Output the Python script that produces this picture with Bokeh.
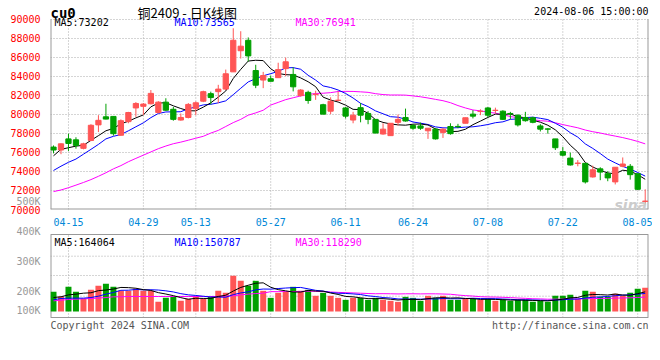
import numpy as np
import pandas as pd
from bokeh.plotting import figure
from bokeh.layouts import column
from bokeh.models import Range1d, FixedTicker, Label, ColumnDataSource
from bokeh.embed import file_html
from bokeh.resources import INLINE

# ---------------- data ----------------
dates = ["04-11", "04-12", "04-15", "04-16", "04-17", "04-18", "04-19", "04-22", "04-23", "04-24",
         "04-25", "04-26", "04-29", "04-30", "05-06", "05-07", "05-08", "05-09", "05-10", "05-13",
         "05-14", "05-15", "05-16", "05-17", "05-20", "05-21", "05-22", "05-23", "05-24", "05-27",
         "05-28", "05-29", "05-30", "05-31", "06-03", "06-04", "06-05", "06-06", "06-07", "06-11",
         "06-12", "06-13", "06-14", "06-17", "06-18", "06-19", "06-20", "06-21", "06-24", "06-25",
         "06-26", "06-27", "06-28", "07-01", "07-02", "07-03", "07-04", "07-05", "07-08", "07-09",
         "07-10", "07-11", "07-12", "07-15", "07-16", "07-17", "07-18", "07-19", "07-22", "07-23",
         "07-24", "07-25", "07-26", "07-29", "07-30", "07-31", "08-01", "08-02", "08-05", "08-06"]

opens = [76560, 76250, 77420, 77320, 76425, 77250, 78890, 79740, 79780, 77800,
         79230, 80670, 80840, 81110, 80190, 81280, 80530, 79400, 79670, 80600,
         81380, 82170, 82380, 82650, 84460, 86680, 87780, 84600, 83600, 83740,
         83850, 84800, 84190, 81970, 82310, 82070, 81010, 80330, 81450, 80670,
         79400, 80700, 80090, 79470, 77930, 77760, 79160, 79670, 78820, 78780,
         78270, 78440, 78100, 78720, 78730, 79060, 80020, 80290, 80670, 80400,
         80330, 80090, 79910, 79670, 79640, 78780, 78470, 77420, 76080, 75400,
         74840, 74850, 73420, 74270, 73760, 72900, 74540, 74540, 73760, 70850]
highs = [76730, 76950, 77965, 77590, 77010, 78960, 79910, 81110, 79780, 79470,
         80260, 81280, 81180, 82550, 81380, 81690, 80770, 80090, 81180, 81350,
         82480, 82380, 83100, 84700, 89040, 88730, 88080, 85210, 84460, 84080,
         85420, 85960, 84940, 82650, 82480, 82480, 81110, 81790, 82410, 80770,
         80260, 81180, 80330, 79470, 79060, 79060, 79980, 80600, 78960, 79130,
         78540, 78540, 78540, 79060, 79000, 79640, 80430, 80530, 80770, 80700,
         80430, 80260, 79980, 80260, 79740, 78960, 78540, 77420, 76560, 75980,
         75190, 74850, 74610, 74440, 74030, 74440, 75470, 74780, 73760, 72120]
lows = [75900, 75810, 76150, 76390, 76320, 77180, 78135, 79470, 77760, 77760,
        79060, 79740, 79910, 81040, 80090, 80360, 79330, 79330, 79570, 79910,
        81280, 81040, 81180, 82550, 84460, 85860, 85550, 82750, 82750, 83470,
        83850, 84020, 82410, 81860, 81110, 81520, 80020, 80020, 81380, 79570,
        79060, 79160, 78960, 78030, 77860, 77760, 78820, 79230, 78370, 78370,
        77420, 77350, 77520, 77860, 78540, 79060, 79570, 79910, 79670, 80090,
        79400, 79470, 78720, 79230, 79060, 78200, 77970, 76250, 75570, 74610,
        74540, 72730, 73350, 73080, 72970, 72630, 74440, 73140, 72050, 70510]
closes = [76250, 76900, 76940, 76735, 76900, 78850, 79370, 79500, 77965, 79330,
          80190, 81140, 81075, 82200, 81280, 80430, 79470, 79670, 81040, 81210,
          82380, 81760, 82650, 84260, 87780, 87160, 86140, 83060, 84080, 83470,
          84700, 85520, 82890, 82550, 81450, 82110, 80020, 81380, 81490, 79810,
          79910, 79910, 79470, 78030, 78440, 79060, 79470, 79300, 78540, 78540,
          78540, 77420, 78440, 77970, 78690, 79640, 79810, 80330, 79910, 80430,
          79470, 80050, 78890, 79330, 79160, 78440, 78440, 76490, 75710, 74680,
          74880, 72900, 74170, 73930, 73320, 74440, 74780, 73660, 72120, 70880]
volumes = [163000, 124500, 204700, 163000, 105000, 180000, 213000, 229700, 204700, 171500,
           171500, 188000, 171500, 171500, 80000, 113400, 121700, 88500, 105000, 121700,
           105000, 121700, 171500, 155000, 296000, 254500, 213000, 254500, 171500, 113400,
           155000, 163000, 204700, 171500, 180000, 130000, 155000, 130000, 113400, 96800,
           113400, 113400, 96800, 113400, 96800, 88500, 80000, 121700, 113400, 88500,
           130000, 113400, 130000, 96800, 96800, 105000, 105000, 96800, 105000, 88500,
           96800, 88500, 96800, 96800, 80000, 88500, 80000, 130000, 130000, 138000,
           105000, 171500, 163000, 121700, 121700, 146600, 130000, 155000, 188000, 196400]

# moving-average values at the left edge (window reaches before the first bar)
ma5_head = [75640, 76320, 76490, 76660]
ma10_head = [74100, 74550, 74960, 75300, 75810, 76320, 76840, 77420, 77690]
ma30_head = [71880, 72050, 72290, 72560, 72840, 73140, 73490, 73860, 74270, 74610,
             75020, 75370, 75710, 76050, 76390, 76670, 76910, 77080, 77280, 77490,
             77690, 78030, 78310, 78720, 79130, 79470, 79910, 80150, 80430]
vma5_head = [116000, 122000, 138000, 144000]
vma10_head = [97000, 108000, 111000, 111000, 111000, 116000, 127000, 144000, 158000]
vma30_head = [88500, 94000, 99600, 102400, 105000, 108000, 111000, 116000, 122000, 122000,
              124500, 124500, 124500, 124500, 124500, 124500, 124500, 124500, 124500, 124500,
              124500, 124500, 124500, 127000, 130000, 138000, 144000, 149000, 152000]

tick_dates = ["04-15", "04-29", "05-13", "05-27", "06-11", "06-24", "07-08", "07-22", "08-05"]
price_ticks = [70000, 72000, 74000, 76000, 78000, 80000, 82000, 84000, 86000, 88000, 90000]
price_top = 91959                                               # header space above 90000
vol_tick_labels = ["100K", "200K", "300K", "400K", "500K"]
vol_tick_levels = [5800, 168500, 416700, 668000, 913000]      # where the site prints them
vol_grid_levels = [127000, 298800, 459000]
vol_box = [-49800, 639100]                                      # volume pane bottom / top

header_symbol = "cu0"
header_title = "铜2409 - 日K线图"
header_time = "2024-08-06 15:00:00"
price_ma_texts = ["MA5:73202", "MA10:73565", "MA30:76941"]
vol_ma_texts = ["MA5:164064", "MA10:150787", "MA30:118290"]
footer_left = "Copyright 2024 SINA.COM"
footer_right = "http://finance.sina.com.cn"

# ---------------- derived ----------------
def moving(vals, n, head):
    s = pd.Series(vals, dtype=float).rolling(n).mean().to_numpy()
    s[:len(head)] = head
    return s

idx = np.arange(len(dates))
o = np.array(opens, float); c = np.array(closes, float)
RED = "#ff5555"; GREEN = "#00a000"
colors = np.where(c >= o, RED, GREEN)
src = ColumnDataSource(dict(x=idx, h=highs, l=lows, top=np.maximum(o, c), bottom=np.minimum(o, c),
                            vol=volumes, color=colors))

tick_pos = [dates.index(d) for d in tick_dates]
MONO = "DejaVu Sans Mono"
GRID = "#aaaaaa"
EDGE = "#999999"
W = 652
X0, X1 = -0.4, 79.44
P0, P1 = price_ticks[0], price_ticks[-1]

def axstyle(fig):
    for ax in fig.axis:
        ax.axis_line_color = None
        ax.major_tick_line_color = None
        ax.minor_tick_line_color = None
        ax.major_label_text_font = MONO
        ax.major_label_text_font_size = "10px"

def lab(fig, text, x, y, color="black", align="left", base="top", size="10px", font=MONO, style_=None):
    kw = {}
    if style_:
        kw["text_font_style"] = style_
    fig.add_layout(Label(x=x, y=y, x_units="screen", y_units="screen", text=text,
                         text_color=color, text_align=align, text_baseline=base,
                         text_font=font, text_font_size=size, **kw))

# ---------------- price panel (frame reaches the top of the page for the header) ----------------
xr = Range1d(X0, X1)
p = figure(width=W, height=228, x_range=xr, y_range=Range1d(P0, price_top), title=None,
           output_backend="svg", toolbar_location=None,
           min_border_left=50, min_border_right=4, min_border_top=0, min_border_bottom=15)
p.outline_line_color = None
p.xaxis.ticker = FixedTicker(ticks=tick_pos)
p.xaxis.major_label_overrides = {t: d for t, d in zip(tick_pos, tick_dates)}
p.xaxis.major_label_text_color = "#0088d8"
p.xaxis.major_label_standoff = 2
p.yaxis.ticker = FixedTicker(ticks=price_ticks)
p.yaxis.major_label_text_color = "#ff0000"
p.yaxis.major_label_standoff = 4
axstyle(p)
p.xgrid.visible = False
p.ygrid.ticker = FixedTicker(ticks=price_ticks)
p.ygrid.grid_line_color = GRID
p.ygrid.grid_line_dash = "1 2"

# pane grid and border
p.segment(x0=tick_pos, y0=P0, x1=tick_pos, y1=P1, color=GRID, line_dash="1 2", line_width=1)
p.segment(x0=[X0, X1], y0=P0, x1=[X0, X1], y1=P1, color=EDGE, line_width=2)
p.segment(x0=X0, y0=P0, x1=X1, y1=P0, color=EDGE, line_width=2)

p.line(idx, moving(closes, 30, ma30_head), color="#ff00ff", line_width=1)
p.line(idx, moving(closes, 10, ma10_head), color="#0000ff", line_width=1)
p.line(idx, moving(closes, 5, ma5_head), color="black", line_width=1)
p.segment(x0="x", y0="h", x1="x", y1="l", color="color", line_width=1, source=src)
p.vbar(x="x", width=0.7, top="top", bottom="bottom", fill_color="color", line_color="color",
       line_width=1, source=src)

lab(p, price_ma_texts[0], 4, 193, "black")
lab(p, price_ma_texts[1], 124, 193, "#0000ff")
lab(p, price_ma_texts[2], 245, 193, "#ff00ff")
lab(p, "sina", 564, 5, "#cccccc", base="alphabetic", size="14px", font="DejaVu Sans", style_="bold italic")
lab(p, header_symbol, 0, 197, "black", base="alphabetic", size="14px", style_="bold")
lab(p, header_title, 87, 197, "black", base="alphabetic", size="13px", font="Noto Sans CJK SC")
lab(p, header_time, 598, 198, "black", align="right", base="alphabetic")

# ---------------- volume panel (transparent, overlaps the bottom of the price panel) ----------------
v = figure(width=W, height=142, x_range=xr, y_range=Range1d(-174300, 1004300), title=None,
           output_backend="svg", toolbar_location=None,
           min_border_left=50, min_border_right=4, min_border_top=0, min_border_bottom=0)
v.margin = (-38, 0, 0, 0)
v.background_fill_color = None
v.border_fill_color = None
v.outline_line_color = None
v.xaxis.visible = False
v.xgrid.visible = False
v.ygrid.visible = False
v.yaxis.ticker = FixedTicker(ticks=vol_tick_levels)
v.yaxis.major_label_overrides = {t: s for t, s in zip(vol_tick_levels, vol_tick_labels)}
v.yaxis.major_label_text_color = "#999999"
v.yaxis.major_label_standoff = 4
axstyle(v)

v.segment(x0=tick_pos, y0=vol_box[0], x1=tick_pos, y1=vol_box[1], color=GRID, line_dash="1 2", line_width=1)
v.segment(x0=X0, y0=vol_grid_levels, x1=X1, y1=vol_grid_levels, color=GRID, line_dash="1 2", line_width=1)
v.segment(x0=[X0, X1], y0=vol_box[0], x1=[X0, X1], y1=vol_box[1], color=EDGE, line_width=2)
v.segment(x0=X0, y0=vol_box, x1=X1, y1=vol_box, color=EDGE, line_width=1)

v.vbar(x="x", width=0.8, top="vol", bottom=0, fill_color="color", line_color=None, source=src)
v.line(idx, moving(volumes, 30, vma30_head), color="#ff00ff", line_width=1)
v.line(idx, moving(volumes, 10, vma10_head), color="#0000ff", line_width=1)
v.line(idx, moving(volumes, 5, vma5_head), color="black", line_width=1)

lab(v, vol_ma_texts[0], 4, 96, "black")
lab(v, vol_ma_texts[1], 124, 96, "#0000ff")
lab(v, vol_ma_texts[2], 245, 96, "#ff00ff")
lab(v, footer_left, 0, 13, "#555555")
lab(v, footer_right, 598, 13, "#555555", align="right")

layout = column(p, v, spacing=0)
open("out.html", "w").write(file_html(layout, INLINE))
